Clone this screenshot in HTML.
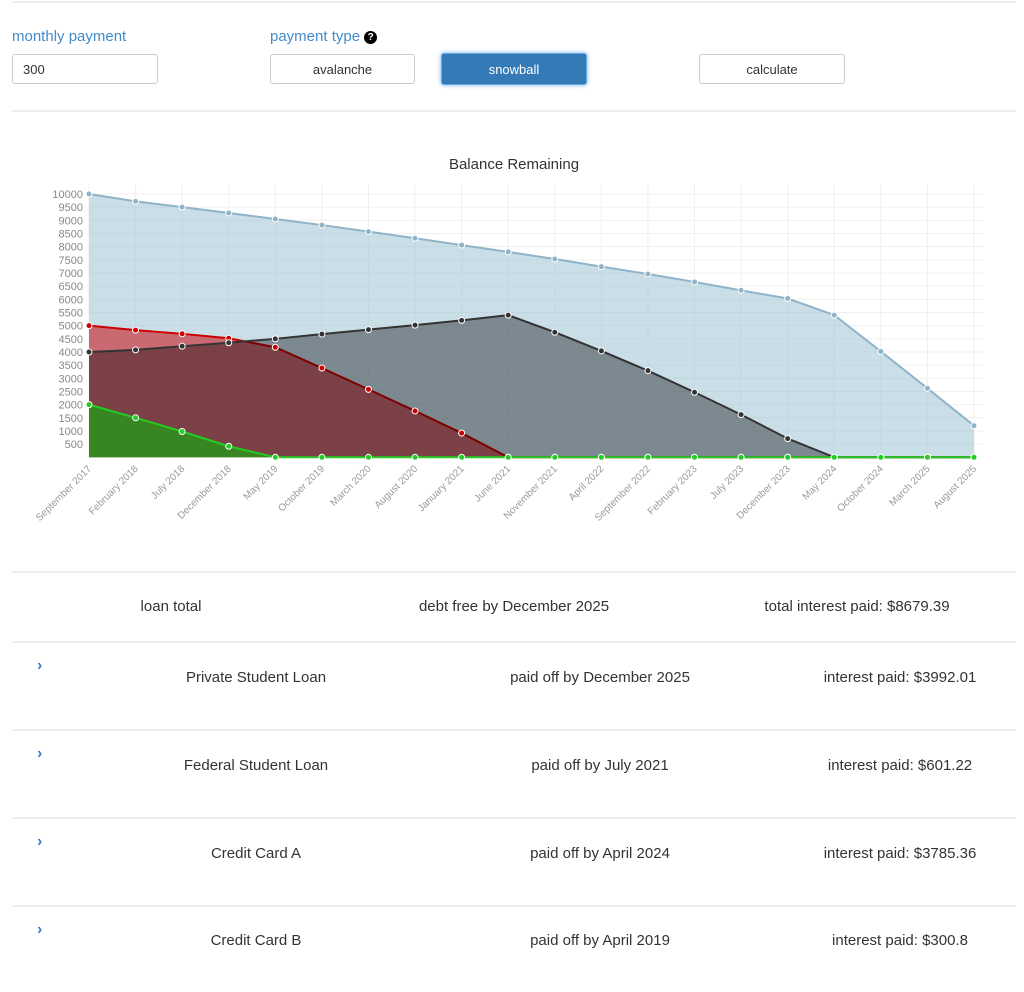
<!DOCTYPE html>
<html><head><meta charset="utf-8"><style>
body{margin:0;width:1024px;height:992px;background:#fff;font-family:"Liberation Sans",sans-serif;color:#333;position:relative;overflow:hidden}
.abs{position:absolute}
.hr{position:absolute;left:12px;right:8px;height:0;border-top:2px solid #eee}
.lbl{position:absolute;color:#428bca;font-size:15px}
.btn{position:absolute;height:30px;border:1px solid #ccc;border-radius:3px;background:#fff;font-size:13px;text-align:center;line-height:30px;box-sizing:border-box}
.t{position:absolute;font-size:15px;transform:translateX(-50%);white-space:nowrap}
.chev{position:absolute;left:37px;color:#3a80c4;font-size:16px;font-weight:bold}
</style></head><body>
<div class="hr" style="top:1px"></div>
<div class="lbl" style="left:12px;top:28px">monthly payment</div>
<div class="btn" style="left:12px;top:54px;width:146px;text-align:left;padding-left:10px">300</div>
<div class="lbl" style="left:270px;top:28px">payment type <span style="display:inline-block;width:13px;height:13px;border-radius:50%;background:#000;color:#fff;font-size:10px;font-weight:bold;text-align:center;line-height:13px;vertical-align:1px">?</span></div>
<div class="btn" style="left:270px;top:54px;width:145px">avalanche</div>
<div class="btn" style="left:441px;top:53px;width:146px;height:32px;line-height:32px;background:#337ab7;border-color:#6aa8e6;color:#fff;box-shadow:0 0 4px #66afe9">snowball</div>
<div class="btn" style="left:699px;top:54px;width:146px">calculate</div>
<div class="hr" style="top:110px"></div>

<svg class="abs" style="left:0;top:140px" width="1024" height="420" id="chart">
<text x="514" y="29" text-anchor="middle" font-size="15" fill="#333">Balance Remaining</text>
</svg>

<div class="hr" style="top:571px"></div>
<div class="t" style="left:171px;top:598px">loan total</div>
<div class="t" style="left:514px;top:598px">debt free by December 2025</div>
<div class="t" style="left:857px;top:598px">total interest paid: $8679.39</div>

<div class="hr" style="top:641px"></div>
<div class="chev" style="top:657px">›</div>
<div class="t" style="left:256px;top:669px">Private Student Loan</div>
<div class="t" style="left:600px;top:669px">paid off by December 2025</div>
<div class="t" style="left:900px;top:669px">interest paid: $3992.01</div>

<div class="hr" style="top:729px"></div>
<div class="chev" style="top:745px">›</div>
<div class="t" style="left:256px;top:757px">Federal Student Loan</div>
<div class="t" style="left:600px;top:757px">paid off by July 2021</div>
<div class="t" style="left:900px;top:757px">interest paid: $601.22</div>

<div class="hr" style="top:817px"></div>
<div class="chev" style="top:833px">›</div>
<div class="t" style="left:256px;top:845px">Credit Card A</div>
<div class="t" style="left:600px;top:845px">paid off by April 2024</div>
<div class="t" style="left:900px;top:845px">interest paid: $3785.36</div>

<div class="hr" style="top:905px"></div>
<div class="chev" style="top:921px">›</div>
<div class="t" style="left:256px;top:932px">Credit Card B</div>
<div class="t" style="left:600px;top:932px">paid off by April 2019</div>
<div class="t" style="left:900px;top:932px">interest paid: $300.8</div>

<script>
const categories=["September 2017","February 2018","July 2018","December 2018","May 2019","October 2019","March 2020","August 2020","January 2021","June 2021","November 2021","April 2022","September 2022","February 2023","July 2023","December 2023","May 2024","October 2024","March 2025","August 2025"];
const privateLoan=[10000,9720,9500,9280,9050,8820,8570,8320,8060,7800,7530,7240,6960,6660,6340,6030,5400,4020,2620,1200];
const federalLoan=[5000,4830,4690,4520,4180,3390,2580,1760,920,0,0,0,0,0,0,0,0,0,0,0];
const cardA=[4000,4080,4220,4350,4500,4680,4850,5020,5200,5400,4750,4040,3290,2470,1620,710,0,0,0,0];
const cardB=[2000,1500,980,420,0,0,0,0,0,0,0,0,0,0,0,0,0,0,0,0];
const yTicks=[500,1000,1500,2000,2500,3000,3500,4000,4500,5000,5500,6000,6500,7000,7500,8000,8500,9000,9500,10000];

const svg=document.getElementById('chart');
const NS='http://www.w3.org/2000/svg';
const X0=89,X1=974,Y0=317.3,YMAX=54,VMAX=10000;
const x=i=>X0+(X1-X0)*i/(categories.length-1);
const y=v=>Y0-(Y0-YMAX)*v/VMAX;
function mk(t,a){const e=document.createElementNS(NS,t);for(const k in a)e.setAttribute(k,a[k]);svg.appendChild(e);return e;}
// grid
yTicks.forEach(v=>{
  const l=mk('line',{x1:X0,x2:984,y1:y(v),y2:y(v),stroke:'#f0f0f0'});
  
  
  const t=mk('text',{x:83,y:y(v)+4,'text-anchor':'end','font-size':11,fill:'#888'});
  t.textContent=v;
  
  
});
categories.forEach((c,i)=>{
  const l=mk('line',{x1:x(i),x2:x(i),y1:YMAX-10,y2:Y0,stroke:'#f0f0f0'});
  
  
  const t=mk('text',{x:x(i)+3,y:Y0+12,'text-anchor':'end','font-size':10,fill:'#999',transform:`rotate(-45 ${x(i)+3} ${Y0+12})`});
  t.textContent=c;
  
  
});
const series=[
 {d:privateLoan,fill:'rgba(150,190,210,0.5)',stroke:'#8fb3c8',name:'private-student-loan'},
 {d:federalLoan,fill:'rgba(200,0,5,0.52)',stroke:'#c00',name:'federal-student-loan'},
 {d:cardA,fill:'rgba(0,0,0,0.38)',stroke:'#333',name:'credit-card-a'},
 {d:cardB,fill:'rgba(50,140,30,0.92)',stroke:'#22cc22',name:'credit-card-b'}];
series.forEach(s=>{
  let pts=s.d.map((v,i)=>x(i)+','+y(v)).join(' ');
  const a=mk('polygon',{points:`${x(0)},${Y0} ${pts} ${x(s.d.length-1)},${Y0}`,fill:s.fill});
  
  
  const l=mk('polyline',{points:pts,fill:'none',stroke:s.stroke,'stroke-width':2});
  
  
});
series.forEach(s=>{
  s.d.forEach((v,i)=>{
    const c=mk('circle',{cx:x(i),cy:y(v),r:3,fill:s.stroke,stroke:'#fff','stroke-width':1});
    
    
  });
});
</script>
</body></html>
